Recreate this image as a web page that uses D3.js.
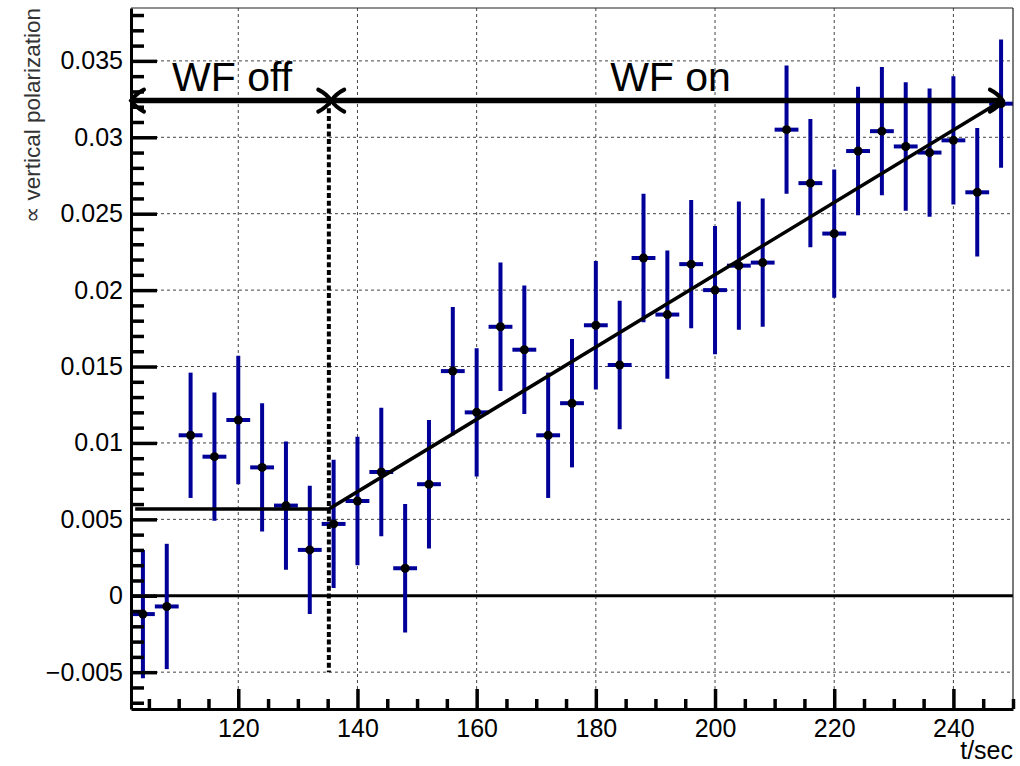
<!DOCTYPE html>
<html>
<head>
<meta charset="utf-8">
<script src="https://cdn.jsdelivr.net/npm/d3@7"></script>
<style>
  html, body { margin: 0; padding: 0; background: #fff; }
  svg { display: block; font-family: "Liberation Sans", Arial, sans-serif; }
</style>
</head>
<body>
<svg id="chart" width="1020" height="766"></svg>
<script>
// Measurement bins (s), polarization signal and its uncertainty
const times = [104, 108, 112, 116, 120, 124, 128, 132, 136, 140, 144, 148, 152, 156, 160,
               164, 168, 172, 176, 180, 184, 188, 192, 196, 200, 204, 208, 212, 216, 220,
               224, 228, 232, 236, 240, 244, 248];
const values = [-0.0012, -0.0007, 0.0105, 0.0091, 0.0115, 0.0084, 0.0059, 0.0030, 0.0047, 0.0062,
                 0.0081, 0.0018, 0.0073, 0.0147, 0.0120, 0.0176, 0.0161, 0.0105, 0.0126, 0.0177,
                 0.0151, 0.0221, 0.0184, 0.0217, 0.0200, 0.0216, 0.0218, 0.0305, 0.0270, 0.0237,
                 0.0291, 0.0304, 0.0294, 0.0290, 0.0298, 0.0264, 0.0322];
const errors = [0.0042, 0.0041, 0.0041, 0.0042, 0.0042, 0.0042, 0.0042, 0.0042, 0.0042, 0.0042,
                0.0042, 0.0042, 0.0042, 0.0042, 0.0042, 0.0042, 0.0042, 0.0041, 0.0042, 0.0042,
                0.0042, 0.0042, 0.0042, 0.0042, 0.0042, 0.0042, 0.0042, 0.0042, 0.0042, 0.0042,
                0.0042, 0.0042, 0.0042, 0.0042, 0.0042, 0.0042, 0.0042];
const binHalfWidth = 2;

// Fitted model: constant before the switch, linear rise afterwards
const fitPoints = [[102.7, 0.00567], [135.2, 0.00567], [248.3, 0.03244]];
const switchTime = 135.2;

// Phase annotations
const phaseSpans = [[102, 135.6], [135.6, 248.3]];
const phaseLabels = ["WF off", "WF on"];
const phaseLabelAt = [108.9, 182.4];
const phaseLevel = 0.0324;

// Axes
const xDomain = [102, 250];
const yDomain = [-0.00741, 0.03846];
const xMajor = [120, 140, 160, 180, 200, 220, 240];
const xMajorLabels = ["120", "140", "160", "180", "200", "220", "240"];
const yMajor = [-0.005, 0, 0.005, 0.01, 0.015, 0.02, 0.025, 0.03, 0.035];
const yMajorLabels = ["\u22120.005", "0", "0.005", "0.01", "0.015", "0.02", "0.025", "0.03", "0.035"];
const xTitle = "t/sec";
const yTitle = "\u221D vertical polarization";

const L = 131, R = 1013, T = 8, B = 709;
const x = d3.scaleLinear().domain(xDomain).range([L, R]);
const y = d3.scaleLinear().domain(yDomain).range([B, T]);

const svg = d3.select("#chart");
const blue = "#000099";

svg.append("defs").append("clipPath").attr("id", "plot")
  .append("rect").attr("x", L).attr("y", T).attr("width", R - L).attr("height", B - T);

// Grid
const grid = svg.append("g").attr("stroke", "#444").attr("stroke-width", 1)
  .attr("stroke-dasharray", "3,3").attr("fill", "none");
grid.selectAll("line.gx").data(xMajor).join("line")
  .attr("x1", d => x(d)).attr("x2", d => x(d)).attr("y1", T).attr("y2", B);
grid.selectAll("line.gy").data(yMajor).join("line")
  .attr("x1", L).attr("x2", R).attr("y1", d => y(d)).attr("y2", d => y(d));

// Zero line
svg.append("line").attr("x1", L).attr("x2", R).attr("y1", y(0)).attr("y2", y(0))
  .attr("stroke", "#000").attr("stroke-width", 3);

// Data with error bars
const pts = times.map((t, i) => ({ t, v: values[i], e: errors[i] }));
const data = svg.append("g").attr("clip-path", "url(#plot)");
data.selectAll("line.ev").data(pts).join("line")
  .attr("x1", d => x(d.t)).attr("x2", d => x(d.t))
  .attr("y1", d => y(d.v - d.e)).attr("y2", d => y(d.v + d.e))
  .attr("stroke", blue).attr("stroke-width", 4);
data.selectAll("line.eh").data(pts).join("line")
  .attr("x1", d => x(d.t - binHalfWidth)).attr("x2", d => x(d.t + binHalfWidth))
  .attr("y1", d => y(d.v)).attr("y2", d => y(d.v))
  .attr("stroke", blue).attr("stroke-width", 4);
data.selectAll("circle").data(pts).join("circle")
  .attr("cx", d => x(d.t)).attr("cy", d => y(d.v)).attr("r", 4.5).attr("fill", "#000");

// Fit curve
svg.append("path").datum(fitPoints)
  .attr("d", d3.line().x(d => x(d[0])).y(d => y(d[1])))
  .attr("fill", "none").attr("stroke", "#000").attr("stroke-width", 3.5)
  .attr("stroke-linejoin", "round");

// Switch-time marker
svg.append("line")
  .attr("x1", x(switchTime)).attr("x2", x(switchTime))
  .attr("y1", y(phaseLevel)).attr("y2", y(-0.005))
  .attr("stroke", "#000").attr("stroke-width", 4).attr("stroke-dasharray", "5,2.7");

// Phase arrows
const arrows = svg.append("g").attr("stroke", "#000").attr("fill", "none");
arrows.selectAll("line").data(phaseSpans).join("line")
  .attr("x1", d => x(d[0])).attr("x2", d => x(d[1]))
  .attr("y1", y(phaseLevel)).attr("y2", y(phaseLevel))
  .attr("stroke-width", 5.5);
function head(tx, ty, dir) {
  // dir = +1 points right, -1 points left; arms bow slightly outward
  const bx = tx - dir * 13;
  return `M${bx},${ty - 11} Q${tx - dir * 5},${ty - 7} ${tx},${ty} Q${tx - dir * 5},${ty + 7} ${bx},${ty + 11}`;
}
const heads = [];
phaseSpans.forEach(s => { heads.push([s[0], -1]); heads.push([s[1], 1]); });
arrows.selectAll("path").data(heads).join("path")
  .attr("d", d => head(x(d[0]), y(phaseLevel), d[1]))
  .attr("stroke-width", 4).attr("stroke-linecap", "round");

svg.selectAll("text.phase").data(phaseLabels).join("text")
  .attr("class", "phase")
  .attr("x", (d, i) => x(phaseLabelAt[i])).attr("y", y(0.0330))
  .attr("font-size", 41).attr("fill", "#000").text(d => d);

// Frame
svg.append("line").attr("x1", L).attr("x2", R).attr("y1", T).attr("y2", T)
  .attr("stroke", "#222").attr("stroke-width", 1.2);
svg.append("line").attr("x1", R).attr("x2", R).attr("y1", T).attr("y2", B)
  .attr("stroke", "#222").attr("stroke-width", 1.2);

// Axes
const xMinor = d3.range(105, 251, 5).filter(v => v % 20 !== 0);
const yMinor = d3.range(-7, 39).map(k => k / 1000).filter(v => Math.abs(Math.round(v * 1000)) % 5 !== 0);

svg.append("g").attr("transform", `translate(0,${B})`)
  .call(d3.axisBottom(x).tickValues(xMajor).tickSizeInner(-20).tickSizeOuter(0).tickPadding(10)
    .tickFormat((d, i) => xMajorLabels[i]));
svg.append("g").attr("transform", `translate(0,${B})`)
  .call(d3.axisBottom(x).tickValues(xMinor).tickSizeInner(-10).tickSizeOuter(0).tickFormat(""))
  .select(".domain").remove();

svg.append("g").attr("transform", `translate(${L},0)`)
  .call(d3.axisLeft(y).tickValues(yMajor).tickSizeInner(-26).tickSizeOuter(0).tickPadding(8)
    .tickFormat((d, i) => yMajorLabels[i]));
svg.append("g").attr("transform", `translate(${L},0)`)
  .call(d3.axisLeft(y).tickValues(yMinor).tickSizeInner(-13).tickSizeOuter(0).tickFormat(""))
  .select(".domain").remove();

svg.selectAll(".tick line").attr("stroke", "#000").attr("stroke-width", 3.5);
svg.selectAll(".domain").attr("stroke", "#000").attr("stroke-width", 3);
svg.selectAll(".tick text").attr("font-size", 25).attr("fill", "#000")
  .attr("font-family", "'Liberation Sans', Arial, sans-serif");

// Axis titles
svg.append("text").attr("x", R).attr("y", 759).attr("text-anchor", "end")
  .attr("font-size", 25).attr("fill", "#000").text(xTitle);
svg.append("text").attr("transform", "translate(40,8) rotate(-90)")
  .attr("text-anchor", "end").attr("font-size", 22.5).attr("fill", "#333").text(yTitle);
</script>
</body>
</html>
